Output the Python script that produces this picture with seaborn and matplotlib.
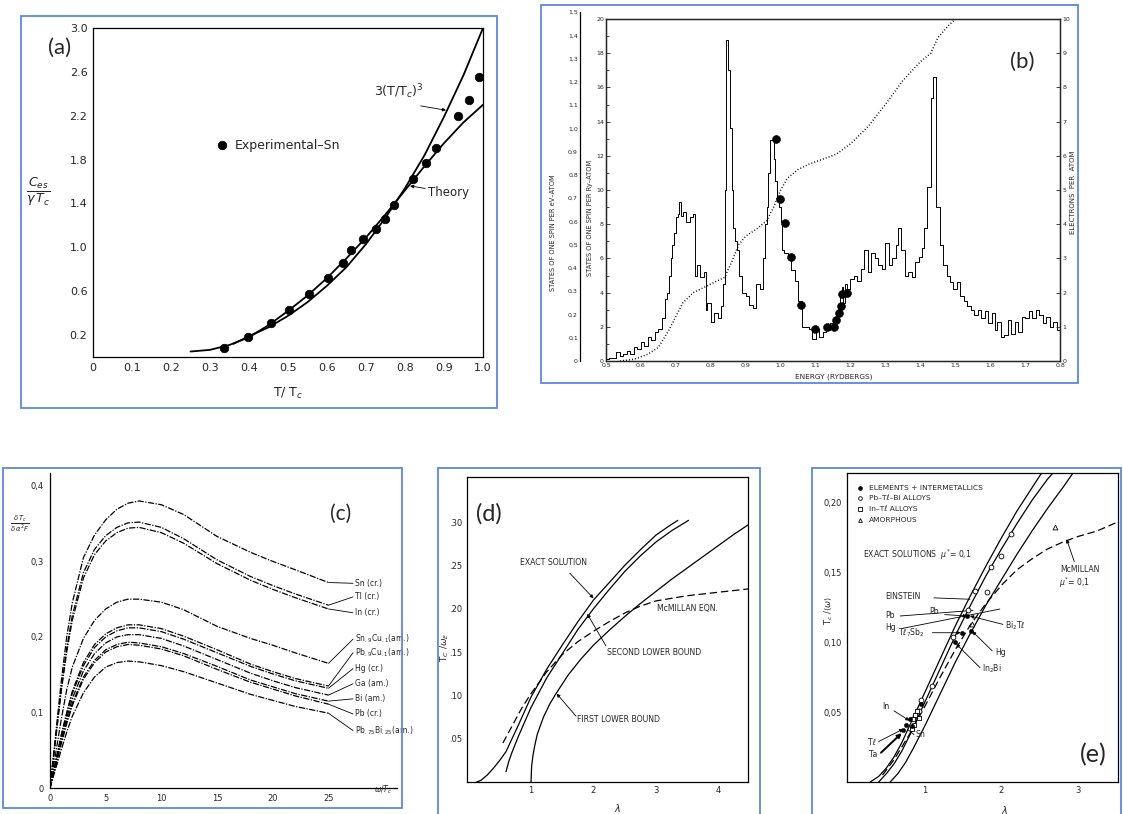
import numpy as np
import matplotlib
matplotlib.use("Agg")
import matplotlib.pyplot as plt
import seaborn as sns
from matplotlib.patches import Rectangle

sns.set_style("white")
plt.rcParams["font.family"] = ["DejaVu Sans"]
plt.rcParams["mathtext.fontset"] = "dejavusans"

W, H = 1123, 814
BLUE = "#5b87e6"

# (a) calor especifico do Sn
theory_t = [0.25, 0.3, 0.35, 0.4, 0.45, 0.5, 0.55, 0.6, 0.65, 0.7, 0.75, 0.8, 0.85, 0.9, 0.95, 1.0]
theory_c = [0.05, 0.065, 0.11, 0.18, 0.29, 0.42, 0.56, 0.72, 0.90, 1.09, 1.30, 1.52, 1.74, 1.95, 2.14, 2.30]
cubic_t = [0.36, 0.4, 0.45, 0.5, 0.55, 0.6, 0.65, 0.7, 0.75, 0.8, 0.85, 0.9, 0.95, 1.0]
cubic_c = [0.12, 0.19, 0.27, 0.375, 0.50, 0.65, 0.82, 1.03, 1.27, 1.54, 1.84, 2.19, 2.57, 3.0]
sn_t = [0.336, 0.398, 0.456, 0.503, 0.554, 0.603, 0.640, 0.662, 0.693, 0.726, 0.749, 0.772,
        0.821, 0.855, 0.88, 0.935, 0.965, 0.99]
sn_c = [0.085, 0.185, 0.306, 0.427, 0.579, 0.724, 0.857, 0.973, 1.073, 1.17, 1.255, 1.39,
        1.62, 1.77, 1.91, 2.20, 2.34, 2.55]
a_xticks = [0, 0.1, 0.2, 0.3, 0.4, 0.5, 0.6, 0.7, 0.8, 0.9, 1.0]
a_xlabels = ["0", "0.1", "0.2", "0.3", "0.4", "0.5", "0.6", "0.7", "0.8", "0.9", "1.0"]
a_yticks = [0.2, 0.6, 1.0, 1.4, 1.8, 2.2, 2.6, 3.0]
a_ylabels = ["0.2", "0.6", "1.0", "1.4", "1.8", "2.2", "2.6", "3.0"]
a_yminor = [0.4, 0.8, 1.2, 1.6, 2.0, 2.4, 2.8]

# (b) densidade de estados
E_dos = [0.50, 0.51, 0.52, 0.53, 0.54, 0.55, 0.56, 0.57, 0.58, 0.59,
         0.60, 0.61, 0.62, 0.63, 0.64, 0.65, 0.66, 0.67, 0.675, 0.68,
         0.685, 0.69, 0.695, 0.70, 0.705, 0.71, 0.715, 0.72, 0.73, 0.74,
         0.75, 0.755, 0.76, 0.77, 0.78, 0.785, 0.79, 0.80, 0.81, 0.82,
         0.83, 0.835, 0.84, 0.845, 0.85, 0.855, 0.86, 0.865, 0.87, 0.875,
         0.88, 0.89, 0.90, 0.91, 0.92, 0.93, 0.94, 0.95, 0.955, 0.96,
         0.965, 0.97, 0.98, 0.985, 0.99, 0.995, 1.00, 1.005, 1.01, 1.02,
         1.03, 1.04, 1.05, 1.06, 1.07, 1.08, 1.09, 1.10, 1.11, 1.12,
         1.13, 1.14, 1.15, 1.16, 1.165, 1.17, 1.175, 1.18, 1.185, 1.19,
         1.20, 1.21, 1.22, 1.23, 1.24, 1.25, 1.26, 1.27, 1.28, 1.29,
         1.30, 1.31, 1.32, 1.33, 1.335, 1.345, 1.355, 1.365, 1.375, 1.385,
         1.395, 1.405, 1.41, 1.42, 1.43, 1.435, 1.445, 1.455, 1.465, 1.475,
         1.485, 1.495, 1.505, 1.515, 1.525, 1.535, 1.545, 1.555, 1.565, 1.575,
         1.585, 1.595, 1.605, 1.615, 1.62, 1.63, 1.64, 1.65, 1.66, 1.67,
         1.68, 1.69, 1.70, 1.71, 1.72, 1.73, 1.74, 1.75, 1.76, 1.77,
         1.78, 1.79, 1.80]
dos = [0.1, 0.2, 0.2, 0.5, 0.3, 0.4, 0.6, 0.4, 0.8, 0.7,
       1.1, 0.9, 1.4, 1.2, 1.7, 1.9, 2.5, 3.6, 4.0, 5.0,
       6.0, 6.8, 7.5, 8.4, 8.6, 9.3, 8.5, 8.7, 8.1, 8.4,
       8.6, 5.0, 5.6, 4.9, 5.2, 3.0, 3.4, 2.3, 2.8, 2.5,
       3.2, 4.5, 10.0, 18.8, 17.0, 13.6, 10.0, 7.8, 7.0, 6.5,
       5.0, 4.0, 3.8, 3.3, 3.1, 4.5, 4.2, 6.0, 8.0, 9.0,
       11.0, 12.9, 11.8, 10.5, 9.6, 9.0, 8.1, 6.5, 6.3, 6.1,
       5.3, 4.7, 3.5, 2.0, 2.0, 1.9, 1.3, 1.9, 1.4, 1.7,
       1.8, 2.2, 1.9, 2.7, 3.2, 4.0, 4.3, 3.4, 4.5, 4.2,
       4.8, 5.0, 4.7, 5.4, 6.5, 5.2, 6.3, 6.0, 5.6, 5.4,
       6.9, 5.6, 6.0, 6.8, 7.8, 6.5, 5.0, 5.2, 4.9, 5.8,
       6.1, 6.6, 7.8, 10.2, 15.4, 16.6, 9.0, 6.8, 5.6, 5.0,
       4.6, 4.2, 4.6, 3.8, 3.5, 3.2, 3.0, 2.7, 3.0, 2.5,
       2.9, 2.2, 2.8, 1.8, 2.3, 1.4, 1.5, 2.4, 1.6, 2.3,
       1.7, 2.6, 2.5, 2.9, 2.5, 3.0, 2.7, 2.2, 2.6, 2.0,
       2.3, 1.8, 1.8]
E_int = [0.54, 0.58, 0.62, 0.65, 0.68, 0.70, 0.72, 0.75, 0.78, 0.80, 0.84, 0.86, 0.88, 0.90,
         0.93, 0.96, 0.98, 1.00, 1.02, 1.05, 1.08, 1.12, 1.16, 1.20, 1.25, 1.30, 1.35, 1.40,
         1.43, 1.45, 1.48, 1.50]
n_int = [0.0, 0.05, 0.2, 0.4, 0.9, 1.3, 1.7, 2.0, 2.15, 2.25, 2.45, 2.9, 3.4, 3.65,
         3.85, 4.1, 4.5, 5.0, 5.35, 5.6, 5.75, 5.9, 6.05, 6.35, 6.85, 7.5, 8.2, 8.75,
         9.0, 9.45, 9.8, 10.0]
exp_E = [0.987, 0.998, 1.012, 1.03, 1.058, 1.099, 1.133, 1.152, 1.16, 1.166, 1.172, 1.177, 1.19]
exp_dos = [13.0, 9.5, 8.05, 6.1, 3.3, 1.85, 2.0, 2.0, 2.4, 2.8, 3.2, 3.9, 4.0]
b_xticks = [0.5, 0.6, 0.7, 0.8, 0.9, 1.0, 1.1, 1.2, 1.3, 1.4, 1.5, 1.6, 1.7, 1.8]
b_xlabels = ["0.5", "0.6", "0.7", "0.8", "0.9", "1.0", "1.1", "1.2", "1.3", "1.4", "1.5",
             "1.6", "1.7", "0.8"]
b_ev_ticks = [0, 0.1, 0.2, 0.3, 0.4, 0.5, 0.6, 0.7, 0.8, 0.9, 1.0, 1.1, 1.2, 1.3, 1.4, 1.5]
b_ev_labels = ["0", "0,1", "0,2", "0,3", "0,4", "0,5", "0,6", "0,7", "0,8", "0,9", "1,0",
               "1,1", "1,2", "1,3", "1,4", "1,5"]

# (c) derivada funcional
c_w = [0, 0.5, 1, 1.5, 2, 3, 4, 5, 6, 7, 8, 10, 12, 15, 18, 20, 22, 25]
c_curves = [
    [0, 0.07, 0.14, 0.20, 0.245, 0.305, 0.335, 0.355, 0.369, 0.377, 0.380, 0.375, 0.362, 0.333, 0.312, 0.300, 0.289, 0.272],
    [0, 0.065, 0.13, 0.185, 0.228, 0.285, 0.316, 0.334, 0.345, 0.351, 0.352, 0.345, 0.330, 0.302, 0.280, 0.268, 0.257, 0.242],
    [0, 0.063, 0.127, 0.18, 0.222, 0.278, 0.309, 0.327, 0.338, 0.344, 0.345, 0.338, 0.324, 0.297, 0.275, 0.263, 0.252, 0.237],
    [0, 0.045, 0.09, 0.13, 0.16, 0.198, 0.222, 0.237, 0.246, 0.25, 0.25, 0.246, 0.236, 0.214, 0.198, 0.189, 0.179, 0.165],
    [0, 0.035, 0.07, 0.10, 0.128, 0.166, 0.19, 0.204, 0.212, 0.216, 0.216, 0.211, 0.201, 0.183, 0.164, 0.154, 0.145, 0.135],
    [0, 0.034, 0.068, 0.098, 0.125, 0.162, 0.186, 0.20, 0.208, 0.212, 0.212, 0.207, 0.197, 0.179, 0.161, 0.151, 0.142, 0.132],
    [0, 0.032, 0.064, 0.093, 0.118, 0.155, 0.178, 0.192, 0.20, 0.203, 0.203, 0.198, 0.188, 0.17, 0.152, 0.142, 0.133, 0.123],
    [0, 0.03, 0.06, 0.088, 0.112, 0.147, 0.169, 0.183, 0.19, 0.193, 0.192, 0.187, 0.178, 0.161, 0.143, 0.134, 0.125, 0.115],
    [0, 0.029, 0.058, 0.085, 0.109, 0.144, 0.166, 0.18, 0.187, 0.19, 0.189, 0.184, 0.175, 0.157, 0.14, 0.131, 0.122, 0.111],
    [0, 0.025, 0.05, 0.074, 0.095, 0.126, 0.147, 0.16, 0.166, 0.168, 0.167, 0.162, 0.154, 0.139, 0.124, 0.116, 0.108, 0.099],
]
c_names = ["Sn (cr.)", "Tl (cr.)", "In (cr.)", r"Sn$_{.9}$Cu$_{.1}$(am.)", r"Pb$_{.9}$Cu$_{.1}$(am.)",
           "Hg (cr.)", "Ga (am.)", "Bi (am.)", "Pb (cr.)", r"Pb$_{.75}$Bi$_{.25}$(am.)"]
c_label_y = [0.271, 0.253, 0.232, 0.197, 0.179, 0.158, 0.138, 0.118, 0.098, 0.076]
c_xticks = [0, 5, 10, 15, 20, 25]
c_yticks = [0, 0.1, 0.2, 0.3, 0.4]
c_ylabels = ["0", "0,1", "0,2", "0,3", "0,4"]

# (d) limites inferiores de Tc
exact_l = [0.13, 0.2, 0.3, 0.4, 0.5, 0.6, 0.8, 1.0, 1.25, 1.5, 1.75, 2.0, 2.25, 2.5, 2.75, 3.0, 3.2, 3.35]
exact_tc = [0.0, 0.002, 0.008, 0.016, 0.025, 0.035, 0.066, 0.098, 0.13, 0.158, 0.185, 0.21, 0.23, 0.25, 0.268, 0.285, 0.295, 0.302]
second_l = [0.6, 0.65, 0.7, 0.8, 1.0, 1.25, 1.5, 1.75, 2.0, 2.25, 2.5, 2.75, 3.0, 3.25, 3.52]
second_tc = [0.012, 0.025, 0.035, 0.053, 0.086, 0.12, 0.148, 0.176, 0.2, 0.222, 0.243, 0.261, 0.277, 0.29, 0.302]
first_l = [1.0, 1.01, 1.03, 1.06, 1.1, 1.2, 1.3, 1.4, 1.6, 1.8, 2.0, 2.25, 2.5, 2.75, 3.0, 3.25, 3.5, 3.75, 4.0, 4.25, 4.5]
first_tc = [0.0, 0.018, 0.03, 0.042, 0.055, 0.075, 0.09, 0.102, 0.124, 0.142, 0.158, 0.175, 0.191, 0.206, 0.22, 0.234, 0.247, 0.26, 0.273, 0.286, 0.298]
mcm_l = [0.55, 0.7, 0.85, 1.0, 1.25, 1.5, 1.75, 2.0, 2.25, 2.5, 2.75, 3.0, 3.5, 4.0, 4.5]
mcm_tc = [0.045, 0.065, 0.085, 0.102, 0.127, 0.147, 0.162, 0.174, 0.185, 0.195, 0.203, 0.209, 0.215, 0.219, 0.223]
d_yticks = [0.05, 0.10, 0.15, 0.20, 0.25, 0.30]
d_ylabels = [".05", ".10", ".15", ".20", ".25", ".30"]

# (e) solucoes exatas vs experimento
ein_l = [0.29, 0.4, 0.5, 0.6, 0.7, 0.8, 0.9, 1.0, 1.2, 1.4, 1.6, 1.8, 2.0, 2.2, 2.4, 2.53]
ein_tc = [0.0, 0.004, 0.01, 0.018, 0.028, 0.04, 0.052, 0.064, 0.088, 0.112, 0.134, 0.155, 0.175, 0.194, 0.211, 0.222]
pb_l = [0.4, 0.5, 0.6, 0.7, 0.8, 0.9, 1.0, 1.2, 1.4, 1.6, 1.8, 2.0, 2.2, 2.4, 2.6, 2.68]
pb_tc = [0.0, 0.006, 0.013, 0.022, 0.033, 0.045, 0.057, 0.081, 0.105, 0.127, 0.148, 0.167, 0.185, 0.202, 0.217, 0.222]
hg_l = [0.55, 0.65, 0.75, 0.85, 1.0, 1.2, 1.4, 1.6, 1.8, 2.0, 2.2, 2.4, 2.6, 2.8, 2.94]
hg_tc = [0.0, 0.006, 0.014, 0.024, 0.04, 0.063, 0.086, 0.107, 0.127, 0.145, 0.163, 0.18, 0.196, 0.211, 0.222]
mce_l = [0.45, 0.6, 0.8, 1.0, 1.2, 1.4, 1.6, 1.8, 2.0, 2.2, 2.4, 2.6, 2.8, 3.0, 3.25, 3.5]
mce_tc = [0.005, 0.016, 0.034, 0.054, 0.075, 0.095, 0.113, 0.128, 0.141, 0.152, 0.16, 0.167, 0.172, 0.176, 0.18, 0.186]
elem_l = [0.95, 1.61, 1.4, 1.55, 1.48, 0.81, 0.76, 0.72, 0.84]
elem_tc = [0.056, 0.108, 0.10, 0.119, 0.107, 0.045, 0.041, 0.037, 0.04]
alloy_l = [2.13, 2.0, 1.87, 1.66, 1.81, 1.57, 1.37, 1.09, 0.95, 0.92, 0.88]
alloy_tc = [0.178, 0.162, 0.154, 0.137, 0.136, 0.123, 0.104, 0.069, 0.059, 0.051, 0.047]
intl_l = [0.85, 0.88, 0.9, 0.86, 0.83, 0.92]
intl_tc = [0.045, 0.048, 0.051, 0.041, 0.038, 0.046]
amor_l = [2.7, 1.62]
amor_tc = [0.183, 0.113]
e_yticks = [0.05, 0.10, 0.15, 0.20]
e_ylabels = ["0,05", "0,10", "0,15", "0,20"]

fig = plt.figure(figsize=(W / 100, H / 100), dpi=100)


def eixo(x0, y0, x1, y1):
    ax = fig.add_axes([x0 / W, 1 - y1 / H, (x1 - x0) / W, (y1 - y0) / H])
    ax.set_facecolor("none")
    for s in ax.spines.values():
        s.set_color("black")
        s.set_linewidth(0.9)
    return ax


def moldura(x0, y0, x1, y1):
    fig.patches.append(Rectangle((x0 / W, 1 - y1 / H), (x1 - x0) / W, (y1 - y0) / H,
                                 transform=fig.transFigure, fill=False, ec=BLUE, lw=1.3))


def txt(x, y, s, **kw):
    fig.text(x / W, 1 - y / H, s, **kw)


def linha(ax, x, y, **kw):
    kw.setdefault("color", "black")
    sns.lineplot(x=x, y=y, ax=ax, estimator=None, sort=False, legend=False, **kw)


def pontos(ax, x, y, **kw):
    sns.scatterplot(x=x, y=y, ax=ax, legend=False, zorder=5, **kw)


seta = dict(arrowstyle="-|>", color="black", lw=0.6, mutation_scale=5, shrinkA=0, shrinkB=0)
traco = dict(arrowstyle="-", color="black", lw=0.6, shrinkA=0, shrinkB=0)
TL = "T\u2113"

# ---------------- (a)
moldura(21, 16, 497, 408)
ax = eixo(93, 28, 483, 357)
linha(ax, theory_t, theory_c, lw=1.3)
linha(ax, cubic_t, cubic_c, lw=1.3)
pontos(ax, sn_t, sn_c, s=38, color="black", edgecolor="black")
ax.set_xlim(0, 1.0)
ax.set_ylim(0, 3.0)
ax.set_xticks(a_xticks, a_xlabels)
ax.set_yticks(a_yticks, a_ylabels)
ax.set_yticks(a_yminor, minor=True)
ax.tick_params(direction="in", length=4, width=0.9, labelsize=8, pad=4)
ax.tick_params(which="minor", direction="in", length=4, width=0.9)
pontos(ax, [0.331], [1.93], s=38, color="black", edgecolor="black")
ax.text(0.364, 1.93, "Experimental\u2013Sn", fontsize=9, va="center")
ax.text(0.72, 2.42, r"3(T/T$_c$)$^3$", fontsize=9, va="center")
ax.annotate("", xy=(0.905, 2.25), xytext=(0.84, 2.29), arrowprops=seta)
ax.annotate("Theory", xy=(0.813, 1.56), xytext=(0.86, 1.50), fontsize=8.5, va="center",
            arrowprops=seta)
txt(38, 192, r"$\frac{C_{es}}{\gamma\, T_c}$", fontsize=13, ha="center", va="center")
txt(288, 393, r"T/ T$_c$", fontsize=9, ha="center", va="center")
txt(60, 48, "(a)", fontsize=16, family="Lato", ha="center", va="center")

# ---------------- (b)
moldura(541, 5, 1078, 383)
axb = eixo(606, 19, 1060, 361)
linha(axb, E_dos, dos, lw=0.7, drawstyle="steps-post")
pontos(axb, exp_E, exp_dos, s=32, color="black", edgecolor="black")
axb.set_xlim(0.5, 1.8)
axb.set_ylim(0, 20)
axb.set_xticks(b_xticks, b_xlabels)
axb.set_yticks([0, 2, 4, 6, 8, 10, 12, 14, 16, 18, 20])
axb.set_yticks([1, 3, 5, 7, 9, 11, 13, 15, 17, 19], minor=True)
axb.tick_params(direction="in", length=3, width=0.6, labelsize=4.5, pad=1.5)
axb.tick_params(which="minor", direction="in", length=2, width=0.6)
axr = axb.twinx()
axr.set_facecolor("none")
for s in axr.spines.values():
    s.set_linewidth(0.9)
linha(axr, E_int, n_int, lw=1.1, linestyle=(0, (0.6, 1.4)))
axr.set_ylim(0, 10)
axr.set_yticks([0, 1, 2, 3, 4, 5, 6, 7, 8, 9, 10])
axr.tick_params(direction="in", length=3, width=0.6, labelsize=4.5, pad=2)
axev = eixo(580, 12, 606, 361)
for k in ["top", "right", "bottom"]:
    axev.spines[k].set_visible(False)
axev.set_ylim(0, 1.5)
axev.set_xticks([])
axev.set_yticks(b_ev_ticks, b_ev_labels)
axev.tick_params(axis="y", direction="in", length=3, width=0.6, labelsize=4.5, pad=1.5)
txt(834, 377, "ENERGY (RYDBERGS)", fontsize=5.3, ha="center", va="center")
txt(553, 233, "STATES OF ONE SPIN PER eV\u2013ATOM", fontsize=4.8, rotation=90, ha="center", va="center")
txt(590, 218, "STATES OF ONE SPIN PER Ry\u2013ATOM", fontsize=4.8, rotation=90, ha="center", va="center")
txt(1073, 192, "ELECTRONS  PER  ATOM", fontsize=5, rotation=90, ha="center", va="center")
txt(1022, 62, "(b)", fontsize=16, family="Lato", ha="center", va="center")

# ---------------- (c)
moldura(3, 468, 402, 808)
axc = eixo(50, 473, 397, 788)
for k in ["top", "right"]:
    axc.spines[k].set_visible(False)
for vals in c_curves:
    linha(axc, c_w, vals, lw=0.9, linestyle=(0, (5, 1.2, 1, 1.2)))
for vals, nome, ly in zip(c_curves, c_names, c_label_y):
    axc.plot([25, 27.2], [vals[-1], ly], color="black", lw=0.6)
    axc.text(27.4, ly, nome, fontsize=5.5, va="center")
axc.set_xlim(0, 31.15)
axc.set_ylim(0, 0.417)
axc.set_xticks(c_xticks)
axc.set_yticks(c_yticks, c_ylabels)
axc.tick_params(direction="out", length=2.5, width=0.6, labelsize=6, pad=2)
txt(20, 524, r"$\frac{\delta\, T_c}{\delta\,\alpha^2 F}$", fontsize=7, ha="center", va="center")
txt(383, 790, r"$\omega/T_c$", fontsize=5.5, ha="center", va="center")
txt(341, 514, "(c)", fontsize=15, family="Lato", ha="center", va="center")

# ---------------- (d)
moldura(438, 468, 760, 818)
axd = eixo(467, 477, 748, 782)
linha(axd, exact_l, exact_tc, lw=0.9)
linha(axd, second_l, second_tc, lw=0.9)
linha(axd, first_l, first_tc, lw=0.9)
linha(axd, mcm_l, mcm_tc, lw=0.9, linestyle=(0, (6, 3)))
axd.set_xlim(-0.024, 4.472)
axd.set_ylim(0, 0.352)
axd.set_xticks([1, 2, 3, 4])
axd.set_yticks(d_yticks, d_ylabels)
axd.tick_params(axis="x", direction="in", length=3, width=0.6, labelsize=6, pad=3)
axd.tick_params(axis="y", direction="out", length=2.5, width=0.6, labelsize=6, pad=1)
axd.text(0.83, 0.253, "EXACT SOLUTION", fontsize=5.6, va="center")
axd.annotate("", xy=(2.0, 0.212), xytext=(1.62, 0.241), arrowprops=seta)
axd.text(3.01, 0.20, "McMILLAN EQN.", fontsize=5.6, va="center")
axd.text(2.21, 0.149, "SECOND LOWER BOUND", fontsize=5.6, va="center")
axd.annotate("", xy=(1.9, 0.194), xytext=(2.2, 0.157), arrowprops=seta)
axd.text(1.73, 0.0716, "FIRST LOWER BOUND", fontsize=5.6, va="center")
axd.annotate("", xy=(1.41, 0.102), xytext=(1.72, 0.076), arrowprops=seta)
txt(445, 647, r"T$_C$ /$\omega_E$", fontsize=6.5, rotation=90, ha="center", va="center")
txt(618, 808, r"$\lambda$", fontsize=7, ha="center", va="center")
txt(489, 514, "(d)", fontsize=17, family="Lato", ha="center", va="center")

# ---------------- (e)
moldura(812, 468, 1121, 818)
axe = eixo(847, 473, 1118, 782)
linha(axe, ein_l, ein_tc, lw=0.9)
linha(axe, pb_l, pb_tc, lw=0.9)
linha(axe, hg_l, hg_tc, lw=0.9)
linha(axe, mce_l, mce_tc, lw=0.9, linestyle=(0, (6, 3)))
pontos(axe, alloy_l, alloy_tc, s=12, color="white", edgecolor="black", linewidth=0.6)
pontos(axe, intl_l, intl_tc, s=10, marker="s", color="white", edgecolor="black", linewidth=0.6)
pontos(axe, amor_l, amor_tc, s=12, marker="^", color="white", edgecolor="black", linewidth=0.6)
pontos(axe, elem_l, elem_tc, s=10, color="black", edgecolor="black")
axe.set_xlim(-0.013, 3.52)
axe.set_ylim(0, 0.2215)
axe.set_xticks([1, 2, 3])
axe.set_yticks(e_yticks, e_ylabels)
axe.tick_params(axis="x", direction="in", length=3, width=0.6, labelsize=6, pad=3)
axe.tick_params(axis="y", direction="out", length=2.5, width=0.6, labelsize=6, pad=1)
leg_y = [0.2108, 0.2036, 0.1957, 0.1878]
leg_txt = ["ELEMENTS + INTERMETALLICS", "Pb\u2013" + TL + "\u2013Bi ALLOYS", "In\u2013" + TL + " ALLOYS", "AMORPHOUS"]
leg_mk = [("o", "black"), ("o", "white"), ("s", "white"), ("^", "white")]
for yy, tt, (mk, fc) in zip(leg_y, leg_txt, leg_mk):
    pontos(axe, [0.156], [yy], s=7, marker=mk, color=fc, edgecolor="black", linewidth=0.6)
    axe.text(0.27, yy, tt, fontsize=5.4, va="center")
axe.text(0.2, 0.163, r"EXACT SOLUTIONS  $\mu^{*}$= 0,1", fontsize=5.6, va="center")
axe.text(0.48, 0.133, "EINSTEIN", fontsize=5.6, va="center")
axe.annotate("", xy=(1.59, 0.131), xytext=(1.12, 0.132), arrowprops=traco)
axe.text(0.48, 0.119, "Pb", fontsize=5.6, va="center")
axe.annotate("", xy=(1.63, 0.123), xytext=(0.68, 0.119), arrowprops=traco)
axe.text(0.48, 0.111, "Hg", fontsize=5.6, va="center")
axe.annotate("", xy=(1.98, 0.124), xytext=(0.7, 0.110), arrowprops=traco)
axe.text(1.06, 0.122, "Pb", fontsize=5.6, va="center")
axe.annotate("", xy=(1.55, 0.119), xytext=(1.26, 0.120), arrowprops=seta)
axe.text(2.05, 0.112, "Bi$_2$" + TL, fontsize=5.6, va="center")
axe.annotate("", xy=(1.59, 0.119), xytext=(2.02, 0.113), arrowprops=seta)
axe.text(0.65, 0.107, TL + "$_7$Sb$_2$", fontsize=5.6, va="center")
axe.annotate("", xy=(1.47, 0.107), xytext=(1.1, 0.107), arrowprops=seta)
axe.text(1.92, 0.093, "Hg", fontsize=5.6, va="center")
axe.annotate("", xy=(1.62, 0.108), xytext=(1.88, 0.094), arrowprops=seta)
axe.text(1.75, 0.081, r"In$_2$Bi", fontsize=5.6, va="center")
axe.annotate("", xy=(1.41, 0.099), xytext=(1.72, 0.082), arrowprops=seta)
axe.text(0.45, 0.054, "In", fontsize=5.6, va="center")
axe.annotate("", xy=(0.8, 0.044), xytext=(0.6, 0.051), arrowprops=seta)
axe.text(0.26, 0.028, TL, fontsize=5.6, va="center")
axe.annotate("", xy=(0.72, 0.038), xytext=(0.4, 0.029), arrowprops=seta)
axe.text(0.28, 0.020, "Ta", fontsize=5.6, va="center")
axe.annotate("", xy=(0.7, 0.035), xytext=(0.43, 0.021),
             arrowprops=dict(arrowstyle="-|>", color="black", lw=1.4, mutation_scale=6, shrinkA=0, shrinkB=0))
axe.text(0.88, 0.034, "Sn", fontsize=5.6, va="center")
axe.annotate("", xy=(0.77, 0.038), xytext=(0.86, 0.034), arrowprops=traco)
axe.text(2.77, 0.152, "McMILLAN", fontsize=5.6, va="center")
axe.text(2.75, 0.143, r"$\mu^{*}$= 0,1", fontsize=5.6, va="center")
axe.annotate("", xy=(2.85, 0.174), xytext=(2.95, 0.158), arrowprops=seta)
txt(828, 610, r"T$_c$ /$\langle\omega\rangle$", fontsize=6, rotation=90, ha="center", va="center")
txt(1005, 810, r"$\lambda$", fontsize=7, ha="center", va="center")
txt(1093, 755, "(e)", fontsize=18, family="Lato", ha="center", va="center")

fig.savefig("out.png", dpi=100)
plt.close(fig)
